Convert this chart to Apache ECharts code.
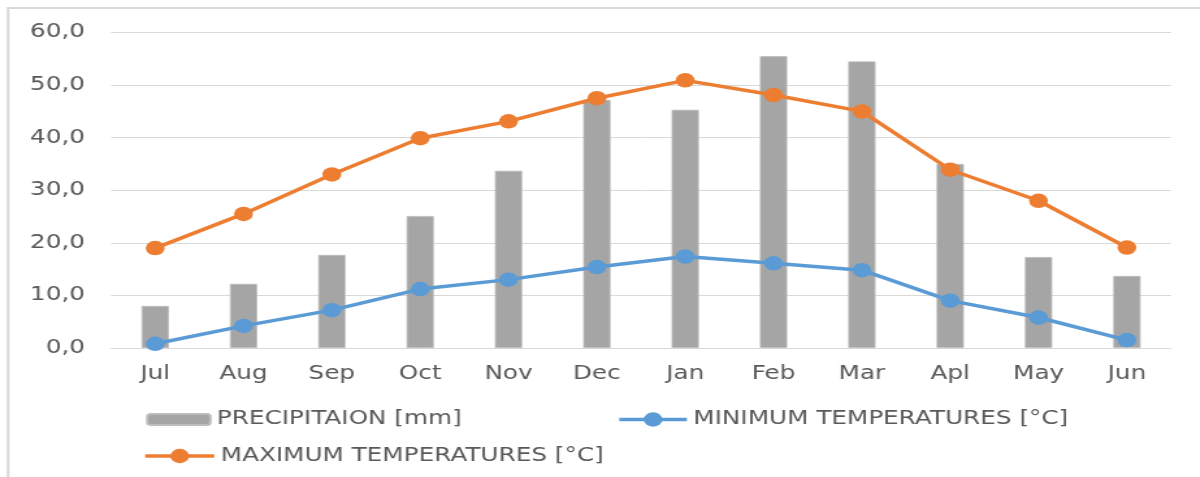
<!DOCTYPE html>
<html>
<head>
<meta charset="utf-8">
<script src="https://cdn.jsdelivr.net/npm/echarts@6/dist/echarts.min.js"></script>
<style>
  html, body { margin: 0; padding: 0; background: #ffffff; overflow: hidden; }
  /* the chart is laid out narrow and widened horizontally, giving the wide lettering and oval markers */
  #chart { width: 923px; height: 477px; transform: scaleX(1.3); transform-origin: 0 0; }
</style>
</head>
<body>
<div id="chart"></div>
<script>
const months = ['Jul', 'Aug', 'Sep', 'Oct', 'Nov', 'Dec', 'Jan', 'Feb', 'Mar', 'Apl', 'May', 'Jun'];
const precipitation = [8.0, 12.2, 17.7, 25.1, 33.7, 47.2, 45.3, 55.5, 54.5, 35.0, 17.3, 13.7];
const minTemps = [0.8, 4.2, 7.2, 11.2, 13.0, 15.4, 17.4, 16.1, 14.8, 9.0, 5.8, 1.5];
const maxTemps = [19.0, 25.5, 33.0, 39.9, 43.1, 47.5, 50.9, 48.1, 45.0, 33.9, 28.0, 19.1];

const seriesNames = ['PRECIPITAION [mm]', 'MINIMUM TEMPERATURES [°C]', 'MAXIMUM TEMPERATURES [°C]'];

const textColor = '#595959';
const fontFamily = 'DejaVu Sans';
const fontSize = 19;
const lineWidth = 3.5;

const chart = echarts.init(document.getElementById('chart'), null, { renderer: 'canvas' });

function legendAt(name, left, top, itemWidth, itemHeight) {
  return {
    data: [name],
    left: left,
    top: top,
    padding: 0,
    itemWidth: itemWidth,
    itemHeight: itemHeight,
    selectedMode: false,
    lineStyle: { width: lineWidth },
    textStyle: { color: textColor, fontFamily: fontFamily, fontSize: fontSize }
  };
}

chart.setOption({
  backgroundColor: '#ffffff',
  animation: false,
  graphic: [{
    type: 'rect',
    shape: { x: 6.2, y: 8, width: 2000, height: 2000 },
    style: { fill: 'none', stroke: '#d9d9d9', lineWidth: 2 },
    silent: true
  }],
  grid: { left: 85.4, right: 22.2, top: 32.5, bottom: 129 },
  legend: [
    legendAt(seriesNames[0], 112.3, 410, 48.5, 11),
    legendAt(seriesNames[1], 474.6, 410, 52, 18),
    legendAt(seriesNames[2], 110, 446.5, 53, 18)
  ],
  xAxis: {
    type: 'category',
    data: months,
    boundaryGap: true,
    axisLine: { show: true, lineStyle: { color: '#d9d9d9', width: 1 } },
    axisTick: { show: false },
    axisLabel: { color: textColor, fontFamily: fontFamily, fontSize: fontSize, margin: 17 }
  },
  yAxis: {
    type: 'value',
    min: 0,
    max: 60,
    interval: 10,
    axisLine: { show: false },
    axisTick: { show: false },
    splitLine: { lineStyle: { color: '#d9d9d9', width: 1 } },
    axisLabel: {
      color: textColor, fontFamily: fontFamily, fontSize: fontSize, margin: 20,
      formatter: v => v.toFixed(1).replace('.', ',')
    }
  },
  series: [
    {
      name: seriesNames[0],
      type: 'bar',
      data: precipitation,
      barWidth: 21,
      itemStyle: { color: '#a5a5a5', borderColor: '#bdbdbd', borderWidth: 0.8 }
    },
    {
      name: seriesNames[1],
      type: 'line',
      data: minTemps,
      symbol: 'circle',
      symbolSize: 14.5,
      lineStyle: { color: '#5b9bd5', width: lineWidth },
      itemStyle: { color: '#5b9bd5' }
    },
    {
      name: seriesNames[2],
      type: 'line',
      data: maxTemps,
      symbol: 'circle',
      symbolSize: 14.5,
      lineStyle: { color: '#ed7d31', width: lineWidth },
      itemStyle: { color: '#ed7d31' }
    }
  ]
});
</script>
</body>
</html>
